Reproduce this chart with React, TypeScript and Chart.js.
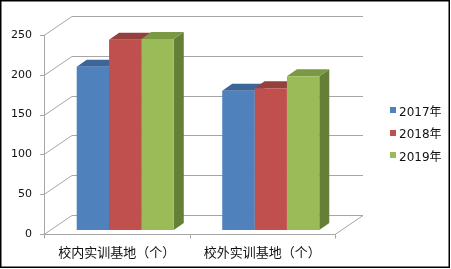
import React, { useEffect, useRef } from 'react';
import { Chart, registerables } from 'chart.js';

Chart.register(...registerables);

// ---- data ----
const categories = ['校内实训基地（个）', '校外实训基地（个）'];
const seriesNames = ['2017年', '2018年', '2019年'];
const values2017 = [205, 175];
const values2018 = [239, 178];
const values2019 = [240, 193];
const yTicks = [0, 50, 100, 150, 200, 250];

// ---- styles ----
const seriesValues = [values2017, values2018, values2019];
const frontColors = ['#4F81BD', '#C0504D', '#9BBB59'];
const topColors = ['#3D6698', '#95403D', '#7B9944'];
const sideColors = ['#345A88', '#82352F', '#667F37'];
const GRID = '#a6a6a6';
const WALL = { dx: 28, dy: 19 }; // depth of the back wall
const SHIFT = { dx: 8.5, dy: 4 }; // bar front plane offset
const BAR = { dx: 10, dy: 7 }; // bar depth

function line(ctx: CanvasRenderingContext2D, x1: number, y1: number, x2: number, y2: number) {
  ctx.beginPath();
  ctx.moveTo(x1, y1);
  ctx.lineTo(x2, y2);
  ctx.stroke();
}

function poly(ctx: CanvasRenderingContext2D, pts: number[][]) {
  ctx.beginPath();
  ctx.moveTo(pts[0][0], pts[0][1]);
  for (let i = 1; i < pts.length; i++) ctx.lineTo(pts[i][0], pts[i][1]);
  ctx.closePath();
  ctx.fill();
}

const threeD = {
  id: 'threeD',
  beforeDraw(chart: any) {
    const ctx = chart.ctx as CanvasRenderingContext2D;
    ctx.save();
    ctx.fillStyle = '#ffffff';
    ctx.fillRect(0, 0, chart.width, chart.height);
    ctx.restore();
  },
  beforeDatasetsDraw(chart: any) {
    const ctx = chart.ctx as CanvasRenderingContext2D;
    const { chartArea } = chart;
    const x = chart.scales.x;
    const y = chart.scales.y;
    const L = chartArea.left;
    const R = chartArea.right;
    const B = y.getPixelForValue(0);
    ctx.save();
    ctx.strokeStyle = GRID;
    ctx.lineWidth = 1;
    y.ticks.forEach((t: any) => {
      const py = Math.round(y.getPixelForValue(t.value)) + 0.5;
      line(ctx, L - 4, py, L, py);
      line(ctx, L, py, L + WALL.dx, py - WALL.dy);
      line(ctx, L + WALL.dx, py - WALL.dy, R + WALL.dx, py - WALL.dy);
    });
    const bY = Math.round(B) + 0.5;
    line(ctx, L + 0.5, y.getPixelForValue(yTicks[yTicks.length - 1]), L + 0.5, bY);
    line(ctx, L, bY, R, bY);
    line(ctx, R, bY, R + WALL.dx, bY - WALL.dy);
    for (let i = 0; i <= categories.length; i++) {
      const px = Math.round(x.getPixelForValue(i - 0.5)) + 0.5;
      line(ctx, px, bY, px, bY + 4);
    }
    ctx.restore();

    ctx.save();
    ctx.translate(SHIFT.dx, -SHIFT.dy);
    for (let i = 0; i < categories.length; i++) {
      for (let d = 0; d < seriesValues.length; d++) {
        const el = chart.getDatasetMeta(d).data[i];
        const p = el.getProps(['x', 'y', 'base', 'width'], true);
        const l = p.x - p.width / 2;
        const r = p.x + p.width / 2;
        ctx.fillStyle = sideColors[d];
        poly(ctx, [[r, p.y], [r + BAR.dx, p.y - BAR.dy], [r + BAR.dx, p.base - BAR.dy], [r, p.base]]);
        ctx.fillStyle = topColors[d];
        poly(ctx, [[l, p.y], [l + BAR.dx, p.y - BAR.dy], [r + BAR.dx, p.y - BAR.dy], [r, p.y]]);
      }
    }
    // keep the translation for the bar fronts drawn by Chart.js
  },
  afterDatasetsDraw(chart: any) {
    chart.ctx.restore();
  },
  afterDraw(chart: any) {
    const ctx = chart.ctx as CanvasRenderingContext2D;
    ctx.save();
    ctx.strokeStyle = '#000';
    ctx.lineWidth = 1.5;
    ctx.strokeRect(0.75, 0.75, chart.width - 2.5, chart.height - 2.5);
    ctx.restore();
  },
};

export default function App() {
  const ref = useRef<HTMLCanvasElement>(null);
  useEffect(() => {
    document.body.style.margin = '0';
    const canvas = ref.current!;
    const chart = new Chart(canvas, {
      type: 'bar',
      data: {
        labels: categories,
        datasets: seriesNames.map((name, i) => ({
          label: name,
          data: seriesValues[i],
          backgroundColor: frontColors[i],
          borderWidth: 0,
          clip: false as any,
          categoryPercentage: 0.667,
          barPercentage: 1,
        })),
      },
      options: {
        responsive: false,
        animation: false,
        events: [],
        layout: { padding: { top: 35, right: 116, bottom: 0, left: 0 } },
        plugins: { legend: { display: false }, tooltip: { enabled: false } },
        scales: {
          x: {
            grid: { display: false, drawTicks: false },
            border: { display: false },
            ticks: {
              padding: 10,
              labelOffset: 0,
              color: '#111',
              maxRotation: 0,
              autoSkip: false,
              font: { family: '"Noto Sans CJK SC", "DejaVu Sans", sans-serif', size: 13 },
            },
            afterFit: (s: any) => {
              s.height = 35;
            },
          },
          y: {
            min: 0,
            max: 250,
            grid: { display: false, drawTicks: false },
            border: { display: false },
            afterBuildTicks: (s: any) => {
              s.ticks = yTicks.map((v) => ({ value: v }));
            },
            ticks: {
              padding: 12,
              color: '#111',
              font: { family: '"DejaVu Sans", sans-serif', size: 11 },
            },
            afterFit: (s: any) => {
              s.width = 44;
            },
          },
        },
      },
      plugins: [threeD],
    } as any);
    return () => chart.destroy();
  }, []);

  return (
    <div style={{ position: 'relative', width: 451, height: 269 }}>
      <canvas ref={ref} width={451} height={269} style={{ display: 'block', position: 'absolute', left: 0, top: 0 }} />
      <div
        style={{
          position: 'absolute',
          left: 390,
          top: 98.75,
          font: '12px "DejaVu Sans", "Noto Sans CJK SC", sans-serif',
          color: '#111',
        }}
      >
        {seriesNames.map((n, i) => (
          <div key={n} style={{ display: 'flex', alignItems: 'center', height: 22.5, whiteSpace: 'nowrap' }}>
            <span style={{ display: 'inline-block', width: 6, height: 6, background: frontColors[i], marginRight: 3 }} />
            <span>{n}</span>
          </div>
        ))}
      </div>
    </div>
  );
}
